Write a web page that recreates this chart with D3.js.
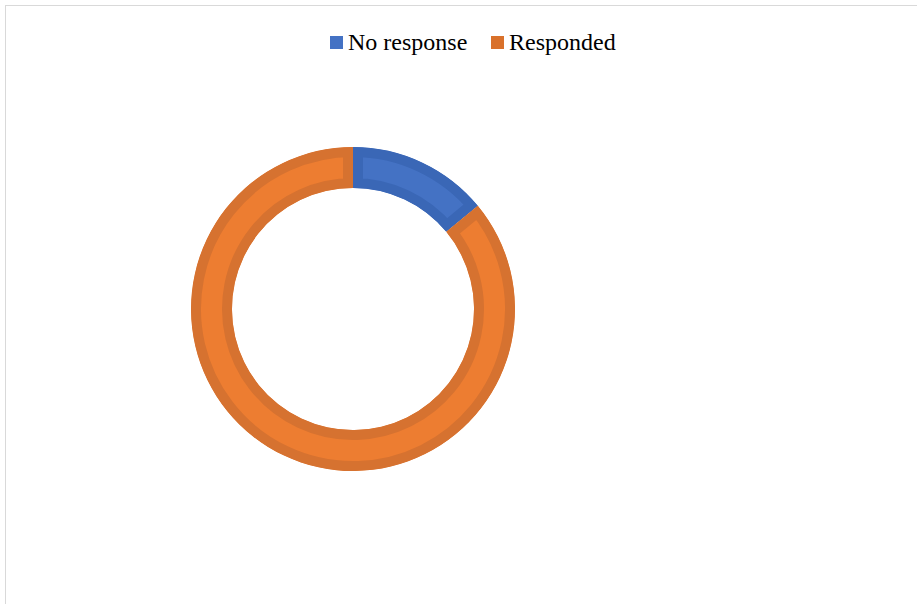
<!DOCTYPE html>
<html>
<head>
<meta charset="utf-8">
<script src="https://cdn.jsdelivr.net/npm/d3@7"></script>
<style>
  body { margin: 0; background: #fff; }
</style>
</head>
<body>
<div id="chart"></div>
<script>
var categories = ["No response", "Responded"];
var values = [14, 86];
var fills = ["#4472C4", "#ED7D31"];
var strokes = ["#3A67B6", "#D67230"];
var swatches = ["#4472C4", "#D9712B"];

var width = 917, height = 604;

var svg = d3.select("#chart").append("svg")
    .attr("width", width)
    .attr("height", height);

// chart border
svg.append("rect")
    .attr("x", 5.5).attr("y", 5.5)
    .attr("width", width + 10).attr("height", height + 10)
    .attr("fill", "#fff")
    .attr("stroke", "#d9d9d9");

var data = categories.map(function(c, i) { return { name: c, val: values[i] }; });

var pie = d3.pie().sort(null).value(function(d) { return d.val; });
var arc = d3.arc().innerRadius(121).outerRadius(162);

var g = svg.append("g").attr("transform", "translate(353,309)");
var defs = svg.append("defs");
var arcs = pie(data);

// clip each slice to itself so the stroke sits inside it
defs.selectAll("clipPath")
    .data(arcs)
    .enter().append("clipPath")
    .attr("id", function(d, i) { return "clip" + i; })
    .append("path")
    .attr("d", arc);

g.selectAll("path.slice")
    .data(arcs)
    .enter().append("path")
    .attr("class", "slice")
    .attr("d", arc)
    .attr("clip-path", function(d, i) { return "url(#clip" + i + ")"; })
    .attr("fill", function(d, i) { return fills[i]; })
    .attr("stroke", function(d, i) { return strokes[i]; })
    .attr("stroke-width", 20);

// legend
var legendX = [330, 491];
var legend = svg.selectAll(".legend")
    .data(data)
    .enter().append("g")
    .attr("class", "legend")
    .attr("transform", function(d, i) { return "translate(" + legendX[i] + ",36)"; });

legend.append("rect")
    .attr("width", 13).attr("height", 13)
    .attr("fill", function(d, i) { return swatches[i]; });

legend.append("text")
    .attr("x", 18).attr("y", 14)
    .attr("font-family", "'Liberation Serif', 'Times New Roman', serif")
    .attr("font-size", "24px")
    .attr("fill", "#000")
    .text(function(d) { return d.name; });
</script>
</body>
</html>
